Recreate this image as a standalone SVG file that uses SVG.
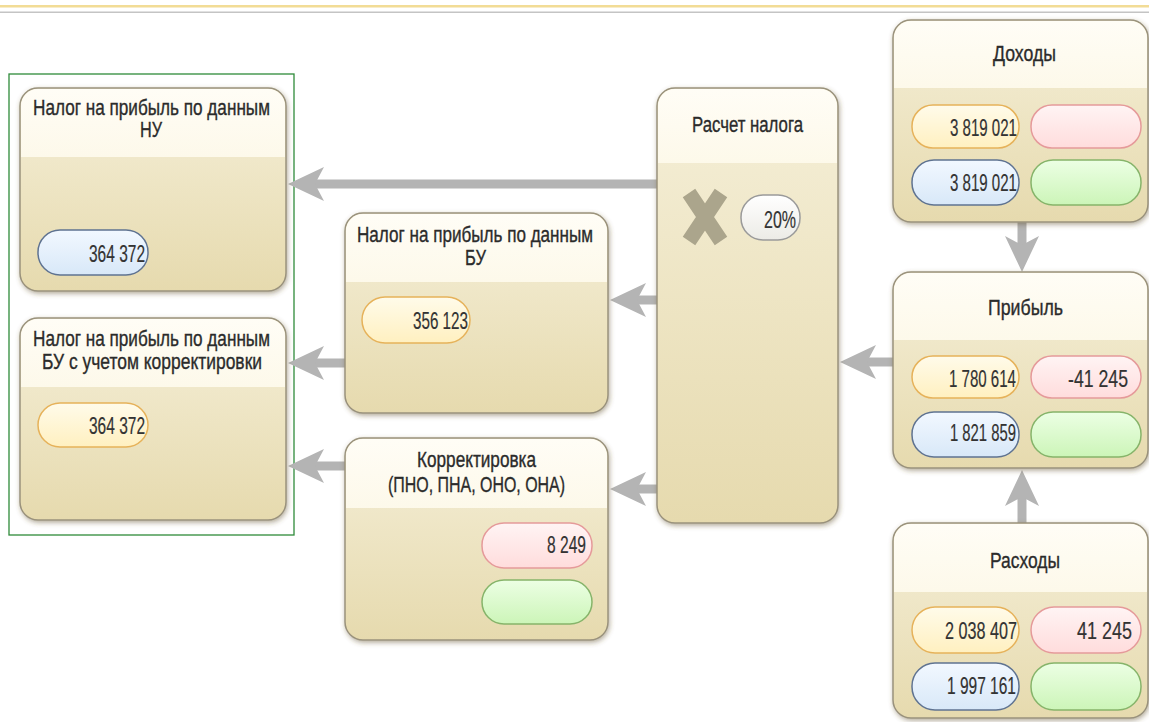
<svg xmlns="http://www.w3.org/2000/svg" width="1149" height="722" viewBox="0 0 1149 722">
<style>
.t{font-family:"Liberation Sans",Arial,sans-serif;font-size:21.5px;fill:#2b2b2b;stroke:#2b2b2b;stroke-width:0.35}
.v{font-family:"Liberation Sans",Arial,sans-serif;font-size:24px;fill:#333;stroke:#333;stroke-width:0.2;text-anchor:end}
.body{fill:url(#gBody);stroke:#9a927c;stroke-width:1.5}
.hdr{fill:url(#gHdr)}
.py{fill:url(#gY);stroke:#e6b25a;stroke-width:1.5}
.pb{fill:url(#gB);stroke:#5f7391;stroke-width:1.5}
.pr{fill:url(#gR);stroke:#e59a9a;stroke-width:1.5}
.pg{fill:url(#gG);stroke:#86b46a;stroke-width:1.5}
.pw{fill:url(#gW);stroke:#9a9a9a;stroke-width:1.5}
.c{stroke:#b4b4b4;stroke-width:9;fill:none;marker-end:url(#ah)}
</style>
<defs>
<linearGradient id="gBody" x1="0" y1="0" x2="0" y2="1"><stop offset="0" stop-color="#f5efd8"/><stop offset="1" stop-color="#e6daae"/></linearGradient>
<linearGradient id="gHdr" x1="0" y1="0" x2="0" y2="1"><stop offset="0" stop-color="#fffdf6"/><stop offset="1" stop-color="#fdf9ea"/></linearGradient>
<linearGradient id="gY" x1="0" y1="0" x2="0" y2="1"><stop offset="0" stop-color="#fffbea"/><stop offset="1" stop-color="#fff0c0"/></linearGradient>
<linearGradient id="gB" x1="0" y1="0" x2="0" y2="1"><stop offset="0" stop-color="#f2f8ff"/><stop offset="1" stop-color="#d8e8f8"/></linearGradient>
<linearGradient id="gR" x1="0" y1="0" x2="0" y2="1"><stop offset="0" stop-color="#fff4f4"/><stop offset="1" stop-color="#ffdcdc"/></linearGradient>
<linearGradient id="gG" x1="0" y1="0" x2="0" y2="1"><stop offset="0" stop-color="#ecffe4"/><stop offset="1" stop-color="#ccf5b8"/></linearGradient>
<linearGradient id="gW" x1="0" y1="0" x2="0" y2="1"><stop offset="0" stop-color="#ffffff"/><stop offset="1" stop-color="#ecebe6"/></linearGradient>
<filter id="sh" x="-10%" y="-10%" width="125%" height="125%"><feDropShadow dx="1" dy="2" stdDeviation="2.5" flood-color="#5a4a20" flood-opacity="0.45"/></filter>
<marker id="ah" markerUnits="userSpaceOnUse" markerWidth="40" markerHeight="40" viewBox="0 -20 40 40" refX="12" refY="0" orient="auto"><path d="M36 0 L0 -17 L9 0 L0 17 Z" fill="#b4b4b4"/></marker>
</defs>
<rect x="0" y="0" width="1149" height="722" fill="#ffffff"/>
<rect x="0" y="5" width="1149" height="2.5" fill="#f2dc96"/>
<rect x="0" y="11.5" width="1149" height="1.5" fill="#c4c4c4"/>
<rect x="9" y="74" width="285" height="461" fill="none" stroke="#2e8b3a" stroke-width="1.3"/>

<g id="connectors">
<path class="c" d="M657 184 H312"/>
<path class="c" d="M657 300 H634"/>
<path class="c" d="M345 363 H312"/>
<path class="c" d="M345 466 H312"/>
<path class="c" d="M657 489 H634"/>
<path class="c" d="M893 362 H864"/>
<path class="c" d="M1022 222 V248"/>
<path class="c" d="M1022 523 V494"/>
</g>

<g id="node-nu">
<rect class="body" x="20" y="88" width="266" height="203" rx="18" filter="url(#sh)"/>
<path class="hdr" d="M21 157 V106 A17 17 0 0 1 38 89 H268 A17 17 0 0 1 285 106 V157 Z"/>
<text class="t" x="33" y="115" textLength="237" lengthAdjust="spacingAndGlyphs">Налог на прибыль по данным</text>
<text class="t" x="140" y="137" textLength="22" lengthAdjust="spacingAndGlyphs">НУ</text>
<rect class="pb" x="38" y="230" width="110" height="45" rx="22"/>
<text class="v" x="145" y="262" textLength="56" lengthAdjust="spacingAndGlyphs">364 372</text>
</g>

<g id="node-bu-corr">
<rect class="body" x="20" y="318" width="266" height="202" rx="18" filter="url(#sh)"/>
<path class="hdr" d="M21 387 V336 A17 17 0 0 1 38 319 H268 A17 17 0 0 1 285 336 V387 Z"/>
<text class="t" x="33" y="346" textLength="237" lengthAdjust="spacingAndGlyphs">Налог на прибыль по данным</text>
<text class="t" x="42" y="369" textLength="220" lengthAdjust="spacingAndGlyphs">БУ с учетом корректировки</text>
<rect class="py" x="38" y="403" width="110" height="44" rx="22"/>
<text class="v" x="145" y="434" textLength="56" lengthAdjust="spacingAndGlyphs">364 372</text>
</g>

<g id="node-bu">
<rect class="body" x="345" y="213" width="263" height="200" rx="18" filter="url(#sh)"/>
<path class="hdr" d="M346 282 V231 A17 17 0 0 1 363 214 H590 A17 17 0 0 1 607 231 V282 Z"/>
<text class="t" x="357" y="242" textLength="236" lengthAdjust="spacingAndGlyphs">Налог на прибыль по данным</text>
<text class="t" x="465" y="265" textLength="21" lengthAdjust="spacingAndGlyphs">БУ</text>
<rect class="py" x="362" y="297" width="108" height="46" rx="23"/>
<text class="v" x="468" y="329" textLength="55" lengthAdjust="spacingAndGlyphs">356 123</text>
</g>

<g id="node-korr">
<rect class="body" x="345" y="438" width="263" height="202" rx="18" filter="url(#sh)"/>
<path class="hdr" d="M346 508 V456 A17 17 0 0 1 363 439 H590 A17 17 0 0 1 607 456 V508 Z"/>
<text class="t" x="417" y="467" textLength="119" lengthAdjust="spacingAndGlyphs">Корректировка</text>
<text class="t" x="388" y="492" textLength="177" lengthAdjust="spacingAndGlyphs">(ПНО, ПНА, ОНО, ОНА)</text>
<rect class="pr" x="482" y="523" width="110" height="45" rx="22"/>
<text class="v" x="586" y="553" textLength="39" lengthAdjust="spacingAndGlyphs">8 249</text>
<rect class="pg" x="482" y="580" width="110" height="44" rx="22"/>
</g>

<g id="node-calc">
<rect class="body" x="657" y="88" width="181" height="435" rx="18" filter="url(#sh)"/>
<path class="hdr" d="M658 163 V106 A17 17 0 0 1 675 89 H820 A17 17 0 0 1 837 106 V163 Z"/>
<text class="t" x="692" y="132" textLength="111" lengthAdjust="spacingAndGlyphs">Расчет налога</text>
<path d="M689 193 L721 241 M721 193 L689 241" stroke="#aba58c" stroke-width="15" stroke-linecap="butt"/>
<rect class="pw" x="741" y="195" width="59" height="45" rx="22"/>
<text class="v" x="796" y="228" textLength="32" lengthAdjust="spacingAndGlyphs">20%</text>
</g>

<g id="node-income">
<rect class="body" x="893" y="20" width="255" height="202" rx="18" filter="url(#sh)"/>
<path class="hdr" d="M894 88 V38 A17 17 0 0 1 911 21 H1130 A17 17 0 0 1 1147 38 V88 Z"/>
<text class="t" x="993" y="61" textLength="63" lengthAdjust="spacingAndGlyphs">Доходы</text>
<rect class="py" x="912" y="105" width="107" height="43" rx="21"/>
<text class="v" x="1017" y="136" textLength="67" lengthAdjust="spacingAndGlyphs">3 819 021</text>
<rect class="pr" x="1031" y="105" width="110" height="43" rx="21"/>
<rect class="pb" x="912" y="160" width="107" height="45" rx="22"/>
<text class="v" x="1017" y="191" textLength="67" lengthAdjust="spacingAndGlyphs">3 819 021</text>
<rect class="pg" x="1031" y="160" width="110" height="45" rx="22"/>
</g>

<g id="node-profit">
<rect class="body" x="893" y="272" width="255" height="196" rx="18" filter="url(#sh)"/>
<path class="hdr" d="M894 340 V290 A17 17 0 0 1 911 273 H1130 A17 17 0 0 1 1147 290 V340 Z"/>
<text class="t" x="988" y="315" textLength="75" lengthAdjust="spacingAndGlyphs">Прибыль</text>
<rect class="py" x="912" y="356" width="107" height="42" rx="21"/>
<text class="v" x="1016" y="387" textLength="67" lengthAdjust="spacingAndGlyphs">1 780 614</text>
<rect class="pr" x="1031" y="356" width="110" height="42" rx="21"/>
<text class="v" x="1128" y="387" textLength="60" lengthAdjust="spacingAndGlyphs">-41 245</text>
<rect class="pb" x="912" y="412" width="107" height="45" rx="22"/>
<text class="v" x="1016" y="441" textLength="66" lengthAdjust="spacingAndGlyphs">1 821 859</text>
<rect class="pg" x="1031" y="412" width="110" height="45" rx="22"/>
</g>

<g id="node-expense">
<rect class="body" x="893" y="523" width="255" height="195" rx="18" filter="url(#sh)"/>
<path class="hdr" d="M894 592 V541 A17 17 0 0 1 911 524 H1130 A17 17 0 0 1 1147 541 V592 Z"/>
<text class="t" x="990" y="568" textLength="70" lengthAdjust="spacingAndGlyphs">Расходы</text>
<rect class="py" x="912" y="607" width="107" height="46" rx="23"/>
<text class="v" x="1017" y="639" textLength="72" lengthAdjust="spacingAndGlyphs">2 038 407</text>
<rect class="pr" x="1031" y="607" width="110" height="46" rx="23"/>
<text class="v" x="1132" y="639" textLength="55" lengthAdjust="spacingAndGlyphs">41 245</text>
<rect class="pb" x="912" y="663" width="107" height="47" rx="23"/>
<text class="v" x="1016" y="694" textLength="69" lengthAdjust="spacingAndGlyphs">1 997 161</text>
<rect class="pg" x="1031" y="663" width="110" height="47" rx="23"/>
</g>
</svg>
